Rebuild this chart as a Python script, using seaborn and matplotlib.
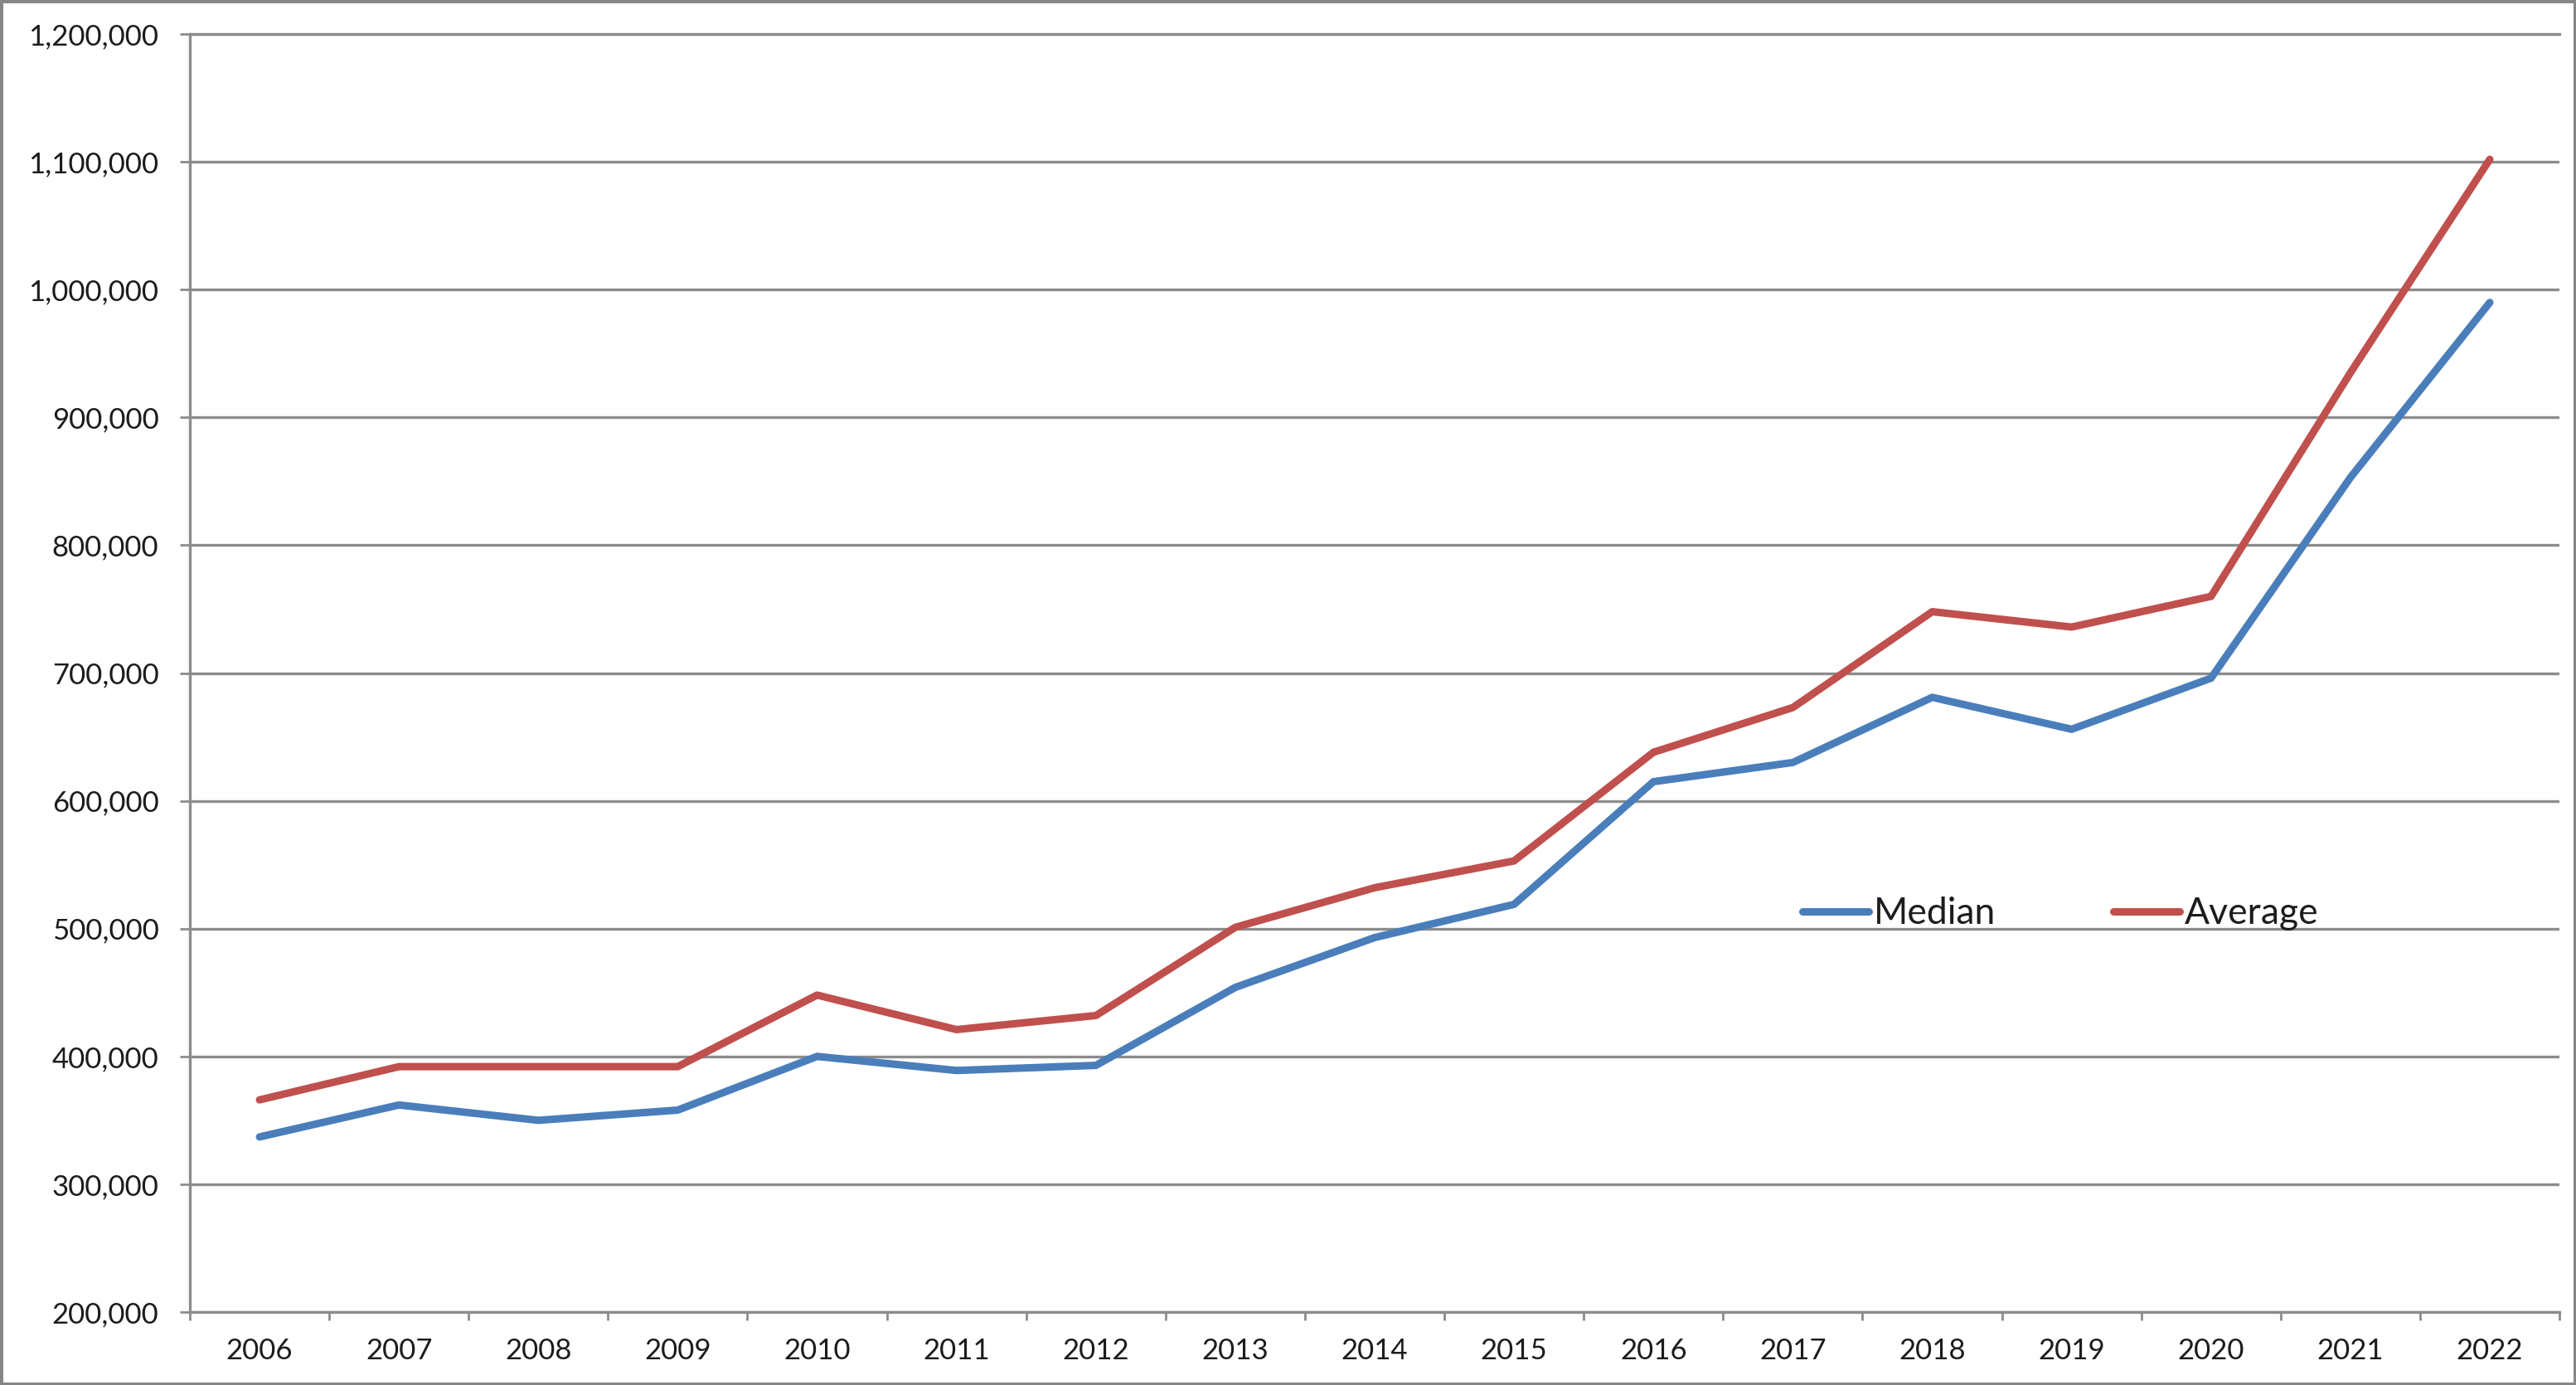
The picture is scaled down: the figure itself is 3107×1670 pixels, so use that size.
import numpy as np
import pandas as pd
import matplotlib
matplotlib.use("Agg")
import matplotlib.pyplot as plt
from matplotlib.ticker import FuncFormatter, FixedLocator
import seaborn as sns

# values
years = [str(y) for y in range(2006, 2023)]
median = [337000, 362000, 350000, 358000, 400000, 389000, 393000, 454000, 493000,
          519000, 615000, 630000, 681000, 656000, 696000, 853000, 990000]
average = [366000, 392000, 392000, 392000, 448000, 421000, 432000, 501000, 532000,
           553000, 638000, 673000, 748000, 736000, 760000, 935000, 1102000]
series_names = ["Median", "Average"]
series_colors = ["#4A7EBB", "#C0504D"]
y_ticks = list(range(200000, 1200001, 100000))

df = pd.concat([
    pd.DataFrame({"Year": years, "Price": median, "Series": "Median"}),
    pd.DataFrame({"Year": years, "Price": average, "Series": "Average"}),
], ignore_index=True)

sns.set_theme(style="white")
plt.rcParams["font.family"] = ["Lato", "DejaVu Sans"]

grey = "#8c8c8c"
text_col = "#1c1c1c"

fig = plt.figure(figsize=(31.07, 16.70), dpi=100)
fig.patch.set_facecolor("white")
fig.patch.set_edgecolor("#868686")
fig.patch.set_linewidth(5)
ax = fig.add_axes([0.0737, 0.0527, 0.9936 - 0.0737, 0.9754 - 0.0527])

sns.lineplot(data=df, x="Year", y="Price", hue="Series",
             hue_order=series_names, palette=series_colors,
             linewidth=6.5, sort=False, ax=ax, legend=True)
for line in ax.lines:
    line.set_solid_capstyle("round")
    line.set_solid_joinstyle("round")

ax.set_xlim(-0.5, len(years) - 0.5)
ax.set_ylim(200000, 1200000)
ax.set_yticks(y_ticks)
ax.yaxis.set_major_formatter(FuncFormatter(lambda v, p: f"{v:,.0f}"))
ax.grid(axis="y", color=grey, linewidth=2.4)
ax.grid(axis="x", visible=False)
ax.set_axisbelow(True)

ax.set_xticks(range(len(years)))
ax.set_xticklabels(years)
ax.xaxis.set_minor_locator(FixedLocator(np.arange(-0.5, len(years), 1.0)))
ax.tick_params(axis="x", which="major", length=0, pad=22, labelsize=25, labelcolor=text_col)
ax.tick_params(axis="x", which="minor", bottom=True, length=7, width=2, color=grey, direction="out")
ax.tick_params(axis="y", which="major", left=True, length=9, width=2, color=grey, direction="out",
               pad=18, labelsize=25, labelcolor=text_col)

ax.spines["right"].set_visible(False)
for side in ["left", "bottom", "top"]:
    ax.spines[side].set_color(grey)
    ax.spines[side].set_linewidth(2.4)

ax.set_xlabel("")
ax.set_ylabel("")

handles, labels = ax.get_legend_handles_labels()
leg = ax.legend(handles, labels, loc="center left", bbox_to_anchor=(0.6806, 0.3115),
                ncol=2, frameon=False, fontsize=32, handlelength=1.8, handletextpad=0.12,
                columnspacing=3.2, borderpad=0, borderaxespad=0)
for t in leg.get_texts():
    t.set_color(text_col)
for h in leg.get_lines():
    h.set_linewidth(6.5)
    h.set_solid_capstyle("round")

fig.savefig("out.png", dpi=100, facecolor="white", edgecolor=fig.get_edgecolor())
